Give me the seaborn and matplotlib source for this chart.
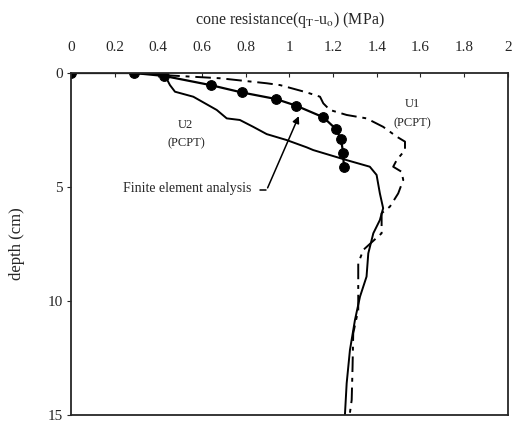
import matplotlib
matplotlib.use("Agg")
import matplotlib.pyplot as plt
import seaborn as sns
import pandas as pd

# Finite element analysis (markers)
fe_q = [0.0, 0.288, 0.427, 0.639, 0.781, 0.938, 1.03, 1.155, 1.213, 1.236, 1.246, 1.249]
fe_d = [0.0, 0.0, 0.13, 0.53, 0.85, 1.14, 1.43, 1.94, 2.46, 2.91, 3.50, 4.11]

# U2 (PCPT) solid
u2_q = [0.0, 0.30, 0.427, 0.453, 0.476, 0.560, 0.667, 0.713, 0.773, 0.834, 0.896, 0.987,
        1.079, 1.109, 1.262, 1.368, 1.399, 1.414, 1.429, 1.414, 1.384, 1.361, 1.353,
        1.323, 1.300, 1.277, 1.262, 1.254]
u2_d = [0.0, 0.0, 0.05, 0.53, 0.82, 1.04, 1.62, 1.99, 2.06, 2.36, 2.68, 2.94,
        3.26, 3.38, 3.82, 4.11, 4.47, 5.28, 5.93, 6.45, 7.03, 7.91, 8.93,
        9.81, 10.83, 12.15, 13.61, 15.0]

# U1 (PCPT) dash-dot
u1_q = [0.0, 0.30, 0.42, 0.682, 0.896, 0.957, 1.079, 1.14, 1.155, 1.185, 1.262, 1.353,
        1.429, 1.491, 1.529, 1.529, 1.491, 1.475, 1.513, 1.521, 1.498, 1.460, 1.422,
        1.422, 1.338, 1.315, 1.315, 1.315, 1.292, 1.289, 1.285, 1.277]
u1_d = [0.0, 0.0, 0.09, 0.23, 0.45, 0.53, 0.85, 1.04, 1.33, 1.62, 1.84, 1.99,
        2.36, 2.79, 3.01, 3.38, 3.82, 4.11, 4.33, 4.69, 5.28, 5.86, 6.15,
        7.03, 7.76, 8.35, 9.22, 10.39, 11.42, 12.88, 14.34, 14.9]

x_ticks = [0, 0.2, 0.4, 0.6, 0.8, 1, 1.2, 1.4, 1.6, 1.8, 2]
x_tick_labels = ["0", "0.2", "0.4", "0.6", "0.8", "1", "1.2", "1.4", "1.6", "1.8", "2"]
y_ticks = [0, 5, 10, 15]

sns.set_style("ticks")
plt.rcParams['font.family'] = ['Liberation Serif', 'DejaVu Serif']
plt.rcParams['mathtext.fontset'] = 'stix'

fig = plt.figure(figsize=(5.13, 4.23), dpi=100)
ax = fig.add_axes([0.1384, 0.0189, 0.990 - 0.1384, 0.8274 - 0.0189])

df_u2 = pd.DataFrame({"q": u2_q, "d": u2_d})
df_u1 = pd.DataFrame({"q": u1_q, "d": u1_d})
df_fe = pd.DataFrame({"q": fe_q, "d": fe_d})

sns.lineplot(data=df_u2, x="q", y="d", sort=False, estimator=None, color="black",
             linewidth=1.4, ax=ax)
sns.lineplot(data=df_u1, x="q", y="d", sort=False, estimator=None, color="black",
             linewidth=1.4, ax=ax)
ax.lines[-1].set_dashes([8, 3, 2, 3])
sns.lineplot(data=df_fe, x="q", y="d", sort=False, estimator=None, color="black",
             linewidth=1.6, marker="o", markersize=7, markeredgecolor="black", ax=ax)

ax.set_xlim(0, 2)
ax.set_ylim(15, 0)
ax.xaxis.tick_top()
ax.xaxis.set_label_position("top")
ax.set_xticks(x_ticks)
ax.set_xticklabels(x_tick_labels)
ax.set_yticks(y_ticks)
ax.tick_params(axis="x", direction="in", length=3, labelsize=11, pad=14)
ax.tick_params(axis="y", direction="out", length=3, labelsize=11, pad=3)
ax.set_xlabel(r"cone resistance(q$_\mathrm{T}$-u$_\mathrm{o}$) (MPa)", fontsize=11.5, labelpad=12)
ax.set_ylabel("depth (cm)", fontsize=12, labelpad=16)
for s in ax.spines.values():
    s.set_linewidth(1.3)
    s.set_visible(True)

ax.text(0.526, 2.28, "U2", fontsize=9, ha="center", va="center")
ax.text(0.526, 3.07, "(PCPT)", fontsize=9, ha="center", va="center")
ax.text(1.565, 1.36, "U1", fontsize=9, ha="center", va="center")
ax.text(1.565, 2.19, "(PCPT)", fontsize=9, ha="center", va="center")

ax.text(0.24, 5.05, "Finite element analysis", fontsize=10, ha="left", va="center")
ax.plot([0.865, 0.895], [5.15, 5.15], color="black", linewidth=1.1)
ax.annotate("", xy=(1.048, 1.78), xytext=(0.895, 5.15),
            arrowprops=dict(arrowstyle="-|>", color="black", lw=1.1, mutation_scale=10))

fig.savefig("out.png", dpi=100)
